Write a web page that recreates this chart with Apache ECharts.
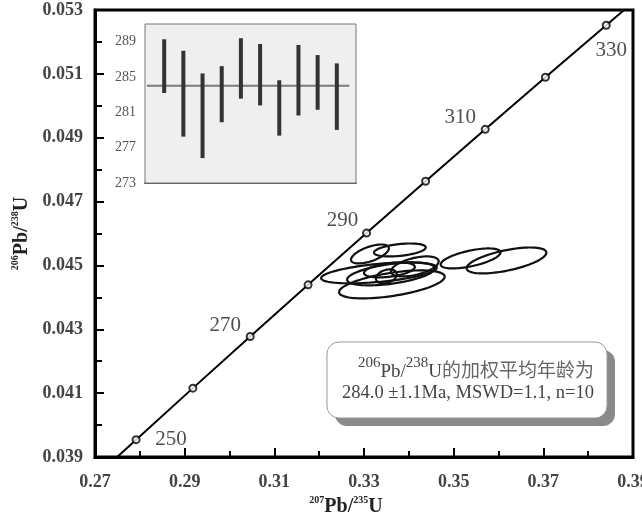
<!DOCTYPE html>
<html>
<head>
<meta charset="utf-8">
<script src="https://cdn.jsdelivr.net/npm/echarts@6/dist/echarts.min.js"></script>
<style>
  html, body { margin: 0; padding: 0; background: #fff; }
  #chart { width: 642px; height: 515px; }
</style>
</head>
<body>
<div id="chart"></div>
<script>
// ---- Concordia curve (207Pb/235U vs 206Pb/238U), tabulated by age in Ma ----
const concordiaAges = [245, 250, 260, 270, 280, 290, 300, 310, 320, 330, 335];
const concordiaX = [0.27289, 0.27917, 0.29183, 0.30462, 0.31753, 0.33057, 0.34374, 0.35704, 0.37047, 0.38403, 0.39086];
const concordiaY = [0.038737, 0.039543, 0.041157, 0.042773, 0.044392, 0.046013, 0.047637, 0.049263, 0.050893, 0.052524, 0.05334];
const markedAges = [250, 260, 270, 280, 290, 300, 310, 320, 330];
const labelledAges = [250, 270, 290, 310, 330];

// ---- Zircon analyses: error ellipses (centre, half-extent, correlation) ----
const ellCX  = [0.33133, 0.33800, 0.33333, 0.33622, 0.33600, 0.33500, 0.34133, 0.35378, 0.36178, 0.33567];
const ellCY  = [0.045359, 0.045484, 0.044766, 0.044406, 0.044734, 0.044656, 0.044969, 0.045219, 0.045156, 0.044859];
const ellSX  = [0.00422, 0.00578, 0.01289, 0.01178, 0.00978, 0.00233, 0.00533, 0.00667, 0.00889, 0.00567];
const ellSY  = [0.000297, 0.000203, 0.000328, 0.000438, 0.000359, 0.000219, 0.000313, 0.000313, 0.000406, 0.000234];
const ellRho = [0.6, 0.4, 0.5, 0.55, 0.5, 0.3, 0.5, 0.6, 0.6, 0.4];

// ---- 206Pb/238U ages per spot (Ma), error-bar limits ----
const spotIds = [1, 2, 3, 4, 5, 6, 7, 8, 9, 10];
const ageHigh = [289.27, 287.97, 285.40, 286.23, 289.39, 288.74, 284.63, 288.62, 287.48, 286.54];
const ageLow  = [283.19, 278.25, 275.82, 279.88, 282.55, 281.78, 278.36, 280.64, 281.29, 279.01];
const weightedMean = 284.0;
const meanError = 1.1;
const mswd = 1.1;
const nSpots = 10;

// ---- Axis ticks ----
const xTickValues = [0.27, 0.29, 0.31, 0.33, 0.35, 0.37, 0.39];
const yTickValues = [0.039, 0.041, 0.043, 0.045, 0.047, 0.049, 0.051, 0.053];
const insetTickValues = [273, 277, 281, 285, 289];
const insetAxisMax = 291;

const SERIF = '"Liberation Serif", "Times New Roman", serif';
const SERIF_CJK = '"Liberation Serif", "Noto Sans CJK SC", serif';

// label placement around the concordia age markers
const ageLabelOffset = { 250: [35, 0], 270: [-25, -11], 290: [-24, -13], 310: [-25, -12], 330: [5, 25] };

const concordiaLine = concordiaAges.map((a, i) => [concordiaX[i], concordiaY[i]]);
const markerData = markedAges.map(a => {
  const i = concordiaAges.indexOf(a);
  const item = { value: [concordiaX[i], concordiaY[i]], age: a };
  if (labelledAges.includes(a)) {
    item.label = { show: true, formatter: String(a), position: 'inside', offset: ageLabelOffset[a] };
  }
  return item;
});
const ellipseData = ellCX.map((cx, i) => [cx, ellCY[i], ellSX[i], ellSY[i], ellRho[i]]);
const ageBarData = spotIds.map((id, i) => [id, ageLow[i], ageHigh[i]]);

const chart = echarts.init(document.getElementById('chart'), null, { renderer: 'canvas' });

const axisNameRich = {
  sup: { fontFamily: SERIF, fontSize: 10, fontWeight: 'bold', color: '#222', verticalAlign: 'top', lineHeight: 22 },
  b: { fontFamily: SERIF, fontSize: 20, fontWeight: 'bold', color: '#222', lineHeight: 22 }
};

chart.setOption({
  animation: false,
  backgroundColor: '#fff',
  grid: [
    { left: 95, top: 10, right: 9, bottom: 58, outerBoundsMode: 'none', containLabel: false,
      show: true, borderColor: '#000', borderWidth: 3, backgroundColor: 'transparent' },
    { left: 145, top: 24, width: 211, height: 159, outerBoundsMode: 'none', containLabel: false,
      show: true, borderColor: '#777', borderWidth: 1, backgroundColor: '#efefef', z: 3 }
  ],
  xAxis: [
    {
      gridIndex: 0, type: 'value',
      min: xTickValues[0], max: xTickValues[xTickValues.length - 1],
      interval: xTickValues[1] - xTickValues[0],
      axisLine: { show: true, onZero: false, lineStyle: { color: '#000', width: 3 } },
      axisTick: { show: true, inside: true, length: 9, lineStyle: { color: '#000', width: 2 } },
      minorTick: { show: true, splitNumber: 2, length: 6, lineStyle: { color: '#000', width: 2 } },
      splitLine: { show: false },
      axisLabel: { margin: 16, fontFamily: SERIF, fontSize: 18, fontWeight: 'bold', color: '#444', formatter: v => v.toFixed(2) },
      name: '{sup|207}{b|Pb/}{sup|235}{b|U}',
      nameLocation: 'middle', nameGap: 38,
      nameTextStyle: { rich: axisNameRich, padding: [0, 36, 0, 0] }
    },
    {
      gridIndex: 1, type: 'value', min: 0, max: 11,
      axisLine: { show: true, onZero: false, lineStyle: { color: '#555', width: 2 } },
      axisTick: { show: false }, axisLabel: { show: false }, splitLine: { show: false }
    }
  ],
  yAxis: [
    {
      gridIndex: 0, type: 'value',
      min: yTickValues[0], max: yTickValues[yTickValues.length - 1],
      interval: 0.002,
      axisLine: { show: true, onZero: false, lineStyle: { color: '#000', width: 3 } },
      axisTick: { show: true, inside: true, length: 9, lineStyle: { color: '#000', width: 2 } },
      minorTick: { show: true, splitNumber: 2, length: 7, lineStyle: { color: '#000', width: 2 } },
      splitLine: { show: false },
      axisLabel: { margin: 12, fontFamily: SERIF, fontSize: 18, fontWeight: 'bold', color: '#444', formatter: v => v.toFixed(3) },
      name: '{sup|206}{b|Pb/}{sup|238}{b|U}',
      nameLocation: 'middle', nameRotate: 90, nameGap: 62,
      nameTextStyle: { rich: axisNameRich, padding: [0, 0, 0, 0] }
    },
    {
      gridIndex: 1, type: 'value',
      min: insetTickValues[0], max: insetAxisMax, interval: insetTickValues[1] - insetTickValues[0],
      axisLine: { show: false }, axisTick: { show: false },
      splitLine: { show: true, lineStyle: { color: '#aaa', width: 1 } },
      axisLabel: {
        margin: 9, fontFamily: SERIF, fontSize: 14, color: '#555',
        formatter: v => insetTickValues.includes(Math.round(v)) ? String(Math.round(v)) : ''
      }
    }
  ],
  series: [
    {
      type: 'line', name: 'concordia', xAxisIndex: 0, yAxisIndex: 0,
      data: concordiaLine, symbol: 'none', silent: true,
      lineStyle: { color: '#000', width: 2 }, z: 2
    },
    {
      type: 'custom', name: 'analyses', xAxisIndex: 0, yAxisIndex: 0,
      data: ellipseData, encode: { x: 0, y: 1 }, z: 3,
      renderItem: (params, api) => {
        const cx = api.value(0), cy = api.value(1), sx = api.value(2), sy = api.value(3), r = api.value(4);
        const k = Math.sqrt(1 - r * r);
        const pts = [];
        for (let i = 0; i < 90; i++) {
          const t = i / 90 * Math.PI * 2;
          pts.push(api.coord([cx + sx * Math.cos(t), cy + sy * (r * Math.cos(t) + k * Math.sin(t))]));
        }
        return { type: 'polygon', shape: { points: pts }, style: { fill: 'none', stroke: '#111', lineWidth: 2.2 } };
      }
    },
    {
      type: 'scatter', name: 'age marks', xAxisIndex: 0, yAxisIndex: 0,
      data: markerData, symbol: 'circle', symbolSize: 7, z: 4,
      itemStyle: { color: '#fff', borderColor: '#000', borderWidth: 2 },
      label: { fontFamily: SERIF, fontSize: 21, color: '#222' }
    },
    {
      type: 'custom', name: 'spot ages', xAxisIndex: 1, yAxisIndex: 1,
      data: ageBarData, encode: { x: 0, y: [1, 2] }, z: 5,
      renderItem: (params, api) => {
        const p1 = api.coord([api.value(0), api.value(1)]);
        const p2 = api.coord([api.value(0), api.value(2)]);
        return { type: 'line', shape: { x1: p1[0], y1: p1[1], x2: p2[0], y2: p2[1] }, style: { stroke: '#333', lineWidth: 4 } };
      }
    },
    {
      type: 'line', name: 'weighted mean', xAxisIndex: 1, yAxisIndex: 1,
      data: [[0.1, weightedMean], [10.65, weightedMean]], symbol: 'none', z: 4,
      lineStyle: { color: '#7a7a7a', width: 2 }
    }
  ],
  graphic: [
    { type: 'rect', z: 20, shape: { x: 335, y: 350, width: 280, height: 76, r: 12 }, style: { fill: '#8a8a8a' } },
    { type: 'rect', z: 21, shape: { x: 327, y: 342, width: 280, height: 76, r: 12 }, style: { fill: '#fff', stroke: '#999', lineWidth: 1 } },
    {
      type: 'text', z: 22,
      style: {
        x: 594, y: 369, align: 'right', verticalAlign: 'middle',
        text: '{s|206}{p|Pb/}{s|238}{p|U}{c|的加权平均年龄为}',
        rich: {
          s: { fontFamily: SERIF, fontSize: 15, fill: '#444', verticalAlign: 'top', lineHeight: 26 },
          p: { fontFamily: SERIF, fontSize: 19, fill: '#444', lineHeight: 26, verticalAlign: 'bottom' },
          c: { fontFamily: SERIF_CJK, fontSize: 19, fill: '#666', lineHeight: 26, verticalAlign: 'bottom' }
        }
      }
    },
    {
      type: 'text', z: 22,
      style: {
        x: 594, y: 393, align: 'right', verticalAlign: 'middle',
        text: weightedMean.toFixed(1) + ' \u00b1' + meanError.toFixed(1) + 'Ma, MSWD=' + mswd.toFixed(1) + ', n=' + nSpots,
        fontFamily: SERIF, fontSize: 18.5, fill: '#444'
      }
    }
  ]
});
</script>
</body>
</html>
